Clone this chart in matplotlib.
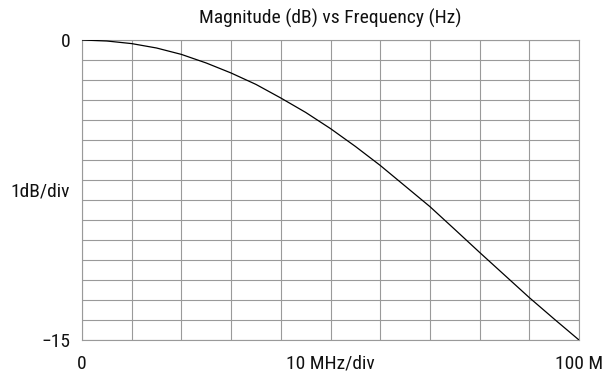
import matplotlib
matplotlib.use("Agg")
import matplotlib.pyplot as plt
from matplotlib import font_manager
import numpy as np

# values (MHz, dB)
freq_mhz = [0, 5, 10, 15, 20, 25, 30, 35, 40, 45, 50,
            55, 60, 65, 70, 75, 80, 85, 90, 95, 100]
mag_db = [0, -0.05, -0.18, -0.4, -0.72, -1.15, -1.65, -2.22, -2.9, -3.62, -4.43,
          -5.32, -6.27, -7.3, -8.33, -9.47, -10.62, -11.75, -12.88, -13.95, -15]

x_ticks = [0, 50, 100]
x_labels = ["0", "10 MHz/div", "100 M"]
y_ticks = [0, -7.5, -15]
y_labels = ["0", "1dB/div", "\u221215"]

# the reference uses a condensed face; take the narrowest one we have
installed = {f.name for f in font_manager.fontManager.ttflist}
fsize = 13
for fam in ['Liberation Sans Narrow', 'Roboto Condensed', 'Open Sans Condensed']:
    if fam in installed:
        plt.rcParams['font.family'] = [fam, 'DejaVu Sans']
        fsize = 14
        break
else:
    plt.rcParams['font.family'] = ['Liberation Sans', 'DejaVu Sans']

fig = plt.figure(figsize=(6.08, 3.81), dpi=100)
ax = fig.add_axes([82 / 608, 41 / 381, 497 / 608, 300 / 381])

grid_col = "#9a9a9a"
text_col = "#111111"
ax.plot(freq_mhz, mag_db, color="black", lw=0.9, zorder=3)

ax.set_xlim(0, 100)
ax.set_ylim(-15, 0)
ax.set_xticks(x_ticks)
ax.set_xticklabels(x_labels)
ax.set_yticks(y_ticks)
ax.set_yticklabels(y_labels)
ax.set_xticks(np.arange(0, 101, 10), minor=True)
ax.set_yticks(np.arange(-15, 1, 1), minor=True)
ax.xaxis.remove_overlapping_locs = False
ax.yaxis.remove_overlapping_locs = False
ax.grid(which="minor", color=grid_col, lw=0.8)
ax.tick_params(which="both", length=0, labelsize=fsize, colors=text_col)
ax.tick_params(axis="x", pad=10.5)
ax.tick_params(axis="y", pad=8.5)
for s in ax.spines.values():
    s.set_color(grid_col)
    s.set_linewidth(0.8)

ax.set_title("Magnitude (dB) vs Frequency (Hz)", fontsize=fsize, pad=11.5, color=text_col)

fig.savefig("out.png", dpi=100)
